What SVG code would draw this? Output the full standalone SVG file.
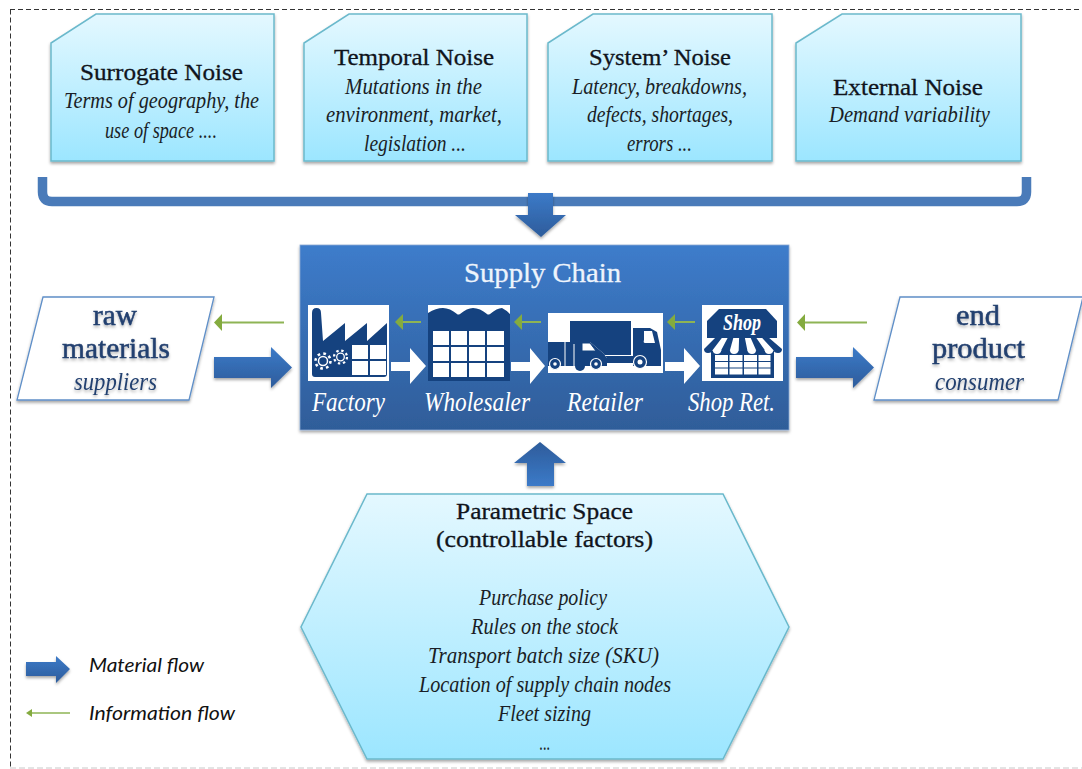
<svg xmlns="http://www.w3.org/2000/svg" width="1082" height="769" viewBox="0 0 1082 769">
<style>
text{font-family:"Liberation Serif","DejaVu Serif",serif;text-anchor:middle}
.h{font-size:23px;fill:#10141c;stroke:#10141c;stroke-width:.3px}
.i{font-size:23px;font-style:italic;fill:#1a1e26}
.w{fill:#fff;font-style:italic;font-size:27px}
.t{fill:#eef4fc;font-size:27px}
.p{font-size:29px;fill:#23406f;stroke:#23406f;stroke-width:.5px;filter:url(#ts)}
.q{font-size:25px;font-style:italic;fill:#23406f;filter:url(#ts)}
.l{font-family:Lato,"Liberation Sans",sans-serif;font-style:italic;font-size:20px;fill:#111;text-anchor:start}
.note{fill:url(#aqua);stroke:#6bb9cc;stroke-width:1.5;filter:url(#sh)}
.para{fill:#fff;stroke:#5f8fc8;stroke-width:1.3;filter:url(#sh)}
.blue{fill:url(#bh);filter:url(#sh)}
.wa{fill:#fff}
.ga{stroke:#8eb455;stroke-width:2;fill:none}
.gh{fill:#84ab3f}
.d{fill:#15427f}
.wb{fill:#fff}
</style>
<defs>
<linearGradient id="aqua" x1="0" y1="0" x2="0" y2="1"><stop offset="0" stop-color="#e4f8ff"/><stop offset="1" stop-color="#9ce6ff"/></linearGradient>
<linearGradient id="chain" x1="0" y1="0" x2="0" y2="1"><stop offset="0" stop-color="#3d7ccb"/><stop offset="1" stop-color="#2f5d99"/></linearGradient>
<linearGradient id="bh" x1="0" y1="0" x2="0" y2="1"><stop offset="0" stop-color="#3c7ac8"/><stop offset="1" stop-color="#2d5c9b"/></linearGradient>
<linearGradient id="bu" x1="0" y1="1" x2="0" y2="0"><stop offset="0" stop-color="#3c7ac8"/><stop offset="1" stop-color="#2d5c9b"/></linearGradient>
<filter id="sh" x="-10%" y="-10%" width="120%" height="125%"><feDropShadow dx="0" dy="2" stdDeviation="1.600" flood-color="#000" flood-opacity=".35"/></filter>
<filter id="ts" x="-10%" y="-20%" width="120%" height="150%"><feDropShadow dx="0" dy="2" stdDeviation="1.500" flood-color="#000" flood-opacity=".3"/></filter>
</defs>
<rect width="1082" height="769" fill="#fff"/>
<g id="frame" fill="none">
<path d="M10 9.500H1082M10.500 9.500V768" stroke="#333" stroke-width="1" stroke-dasharray="5 3"/>
<path d="M10 768H1082" stroke="#c8c8c8" stroke-width="1" stroke-dasharray="6 3"/>
</g>

<g id="supply-chain">
<rect x="300" y="245" width="489" height="185" fill="url(#chain)" stroke="#8aa9d2" stroke-width=".8" filter="url(#sh)"/>
<text class="t" x="542.500" y="282" textLength="157" lengthAdjust="spacingAndGlyphs" stroke="#eef4fc" stroke-width=".3">Supply Chain</text>
</g>

<g id="connectors">
<path d="M42.500 177V192Q42.500 201.500 52 201.500H1017Q1026.500 201.500 1026.500 192V177" fill="none" stroke="#4a7bb9" stroke-width="9.500"/>
<path class="blue" d="M528 193H553V215H566L541 237 515 215H528Z"/>
<path class="blue" d="M214 357H271V347L292 367.500 271 388V378H214Z"/>
<path class="blue" d="M796 357H853V347L874 367.500 853 388V378H796Z"/>
<path d="M527 486V463H514L540 442 566 463H554V486Z" fill="url(#bu)" filter="url(#sh)"/>
<path class="wa" d="M391 362H410V348L426 366 410 384V371H391Z"/>
<path class="wa" d="M511 362H530V348L545 366 530 384V371H511Z"/>
<path class="wa" d="M665 362H684V348L700 366 684 384V371H665Z"/>
<path class="ga" d="M403 322H421M522 322H541M675 322H695M222 322.500H284M805 322.500H867"/>
<path class="gh" d="M395 322 403 314V330Z"/>
<path class="gh" d="M514 322 522 314V330Z"/>
<path class="gh" d="M667 322 675 314V330Z"/>
<path class="gh" d="M214 322.500 222 314V331Z"/>
<path class="gh" d="M797 322.500 805 314V331Z"/>
</g>

<g id="surrogate-noise">
<path class="note" d="M96 14H274V161H51V43Z"/>
<text class="h" x="161.500" y="80" textLength="163" lengthAdjust="spacingAndGlyphs">Surrogate Noise</text>
<text class="i" x="161.500" y="108" textLength="195" lengthAdjust="spacingAndGlyphs">Terms of geography, the</text>
<text class="i" x="161" y="138" textLength="112" lengthAdjust="spacingAndGlyphs">use of space ....</text>
</g>
<g id="temporal-noise">
<path class="note" d="M349 14H527V161H304V43Z"/>
<text class="h" x="414" y="65" textLength="160" lengthAdjust="spacingAndGlyphs">Temporal Noise</text>
<text class="i" x="413.500" y="94" textLength="137" lengthAdjust="spacingAndGlyphs">Mutations in the</text>
<text class="i" x="414" y="122" textLength="176" lengthAdjust="spacingAndGlyphs">environment, market,</text>
<text class="i" x="415" y="151" textLength="102" lengthAdjust="spacingAndGlyphs">legislation ...</text>
</g>
<g id="system-noise">
<path class="note" d="M593 14H772V161H548V43Z"/>
<text class="h" x="660" y="65" textLength="142" lengthAdjust="spacingAndGlyphs">System’ Noise</text>
<text class="i" x="659.500" y="94" textLength="175" lengthAdjust="spacingAndGlyphs">Latency, breakdowns,</text>
<text class="i" x="660" y="122" textLength="146" lengthAdjust="spacingAndGlyphs">defects, shortages,</text>
<text class="i" x="659.500" y="151" textLength="65" lengthAdjust="spacingAndGlyphs">errors ...</text>
</g>
<g id="external-noise">
<path class="note" d="M842 14H1021V161H796V43Z"/>
<text class="h" x="908" y="95" textLength="150" lengthAdjust="spacingAndGlyphs">External Noise</text>
<text class="i" x="909.500" y="122" textLength="161" lengthAdjust="spacingAndGlyphs">Demand variability</text>
</g>

<g id="raw-materials">
<path class="para" d="M43 297H214L189 400H17Z"/>
<text class="p" x="115" y="325" textLength="44" lengthAdjust="spacingAndGlyphs">raw</text>
<text class="p" x="116" y="358" textLength="108" lengthAdjust="spacingAndGlyphs">materials</text>
<text class="q" x="115.500" y="390" textLength="83" lengthAdjust="spacingAndGlyphs">suppliers</text>
</g>
<g id="end-product">
<path class="para" d="M900 297H1083L1058 400H874Z"/>
<text class="p" x="978" y="325" textLength="44" lengthAdjust="spacingAndGlyphs">end</text>
<text class="p" x="978.500" y="358" textLength="93" lengthAdjust="spacingAndGlyphs">product</text>
<text class="q" x="979.500" y="390" textLength="89" lengthAdjust="spacingAndGlyphs">consumer</text>
</g>

<g id="factory">
<rect class="wb" x="308" y="305" width="81" height="76"/>
<path class="d" d="M312 313Q312 308 316.500 308Q321 308 321 313L323 341 345 323V341L367 323V341L387 323V374Q387 377 384 377H315Q312 377 312 374Z"/>
<g class="wb"><rect x="352" y="345" width="16" height="14"/><rect x="370" y="345" width="16" height="14"/><rect x="352" y="361" width="16" height="14"/><rect x="370" y="361" width="16" height="14"/></g>
<g fill="none" stroke="#fff">
<circle cx="323" cy="361" r="4.500" stroke-width="1.500"/><circle cx="323" cy="361" r="7.500" stroke-width="2.500" stroke-dasharray="2.700 3.200"/>
<circle cx="340.500" cy="357" r="3.800" stroke-width="1.300"/><circle cx="340.500" cy="357" r="6.500" stroke-width="2.200" stroke-dasharray="2.400 2.700"/>
</g>
<text class="w" x="348.500" y="411" textLength="73" lengthAdjust="spacingAndGlyphs">Factory</text>
</g>

<g id="wholesaler">
<rect class="wb" x="428" y="305" width="82" height="76"/>
<path class="d" d="M428 313Q436 308 443 308Q450 308 457 314Q458 315 460 314Q467 308 473 308Q480 308 487 314Q488 315 490 314Q497 308 502 308Q506 310 510 314V381H428Z"/>
<g class="wb">
<rect x="433" y="331" width="16" height="14"/><rect x="451" y="331" width="16" height="14"/><rect x="469" y="331" width="16" height="14"/><rect x="487" y="331" width="17" height="14"/>
<rect x="433" y="347" width="16" height="14"/><rect x="451" y="347" width="16" height="14"/><rect x="469" y="347" width="16" height="14"/><rect x="487" y="347" width="17" height="14"/>
<rect x="433" y="363" width="16" height="14"/><rect x="451" y="363" width="16" height="14"/><rect x="469" y="363" width="16" height="14"/><rect x="487" y="363" width="17" height="14"/>
</g>
<text class="w" x="477" y="411" textLength="106" lengthAdjust="spacingAndGlyphs">Wholesaler</text>
</g>

<g id="retailer">
<rect class="wb" x="548" y="313" width="115" height="60"/>
<rect class="d" x="570" y="321" width="61" height="34"/>
<path class="d" d="M633 328H650L657 332 661 350V366H633Z"/>
<rect class="d" x="605" y="356" width="30" height="7"/>
<path class="wb" d="M644 331H652L655 343H645Q643 343 644 340Z"/>
<path d="M570 342H590L603 353 607 358V366H570Z" fill="#fff"/>
<path class="d" d="M548 342H590L603 353 607 358V366H548Z"/>
<path d="M565 342V366M574 344V366" stroke="#fff" stroke-width="1" fill="none"/>
<path d="M582 343H590L596 351H582Z" fill="#fff" stroke="#15427f" stroke-width="1"/>
<circle class="d" cx="580" cy="366" r="5"/>
<g fill="#15427f" stroke="#fff" stroke-width="1.200"><circle cx="555" cy="364" r="5.500"/><circle cx="596" cy="364" r="5.500"/><circle cx="640" cy="362" r="6.500"/></g>
<g fill="#fff"><circle cx="555" cy="364" r="1.800"/><circle cx="596" cy="364" r="1.800"/><circle cx="640" cy="362" r="2.500"/></g>
<text class="w" x="605" y="411" textLength="76" lengthAdjust="spacingAndGlyphs">Retailer</text>
</g>

<g id="shop-ret">
<rect class="wb" x="702" y="305" width="81" height="76"/>
<path class="d" d="M719 309H766L777 321V338H707V321Z"/>
<text x="742" y="330" textLength="38" lengthAdjust="spacingAndGlyphs" style="font-size:23px;font-weight:bold;font-style:italic;fill:#fff">Shop</text>
<path class="d" d="M711 351H774V378H711Z"/>
<g class="wb">
<rect x="715" y="355" width="13" height="6"/><rect x="729.500" y="355" width="13" height="6"/><rect x="744" y="355" width="13" height="6"/><rect x="758.500" y="355" width="12" height="6"/>
<rect x="715" y="362" width="13" height="5.500"/><rect x="729.500" y="362" width="13" height="5.500"/><rect x="744" y="362" width="13" height="5.500"/><rect x="758.500" y="362" width="12" height="5.500"/>
<rect x="715" y="368.500" width="13" height="6"/><rect x="729.500" y="368.500" width="13" height="6"/><rect x="744" y="368.500" width="13" height="6"/><rect x="758.500" y="368.500" width="12" height="6"/>
</g>
<path class="d" d="M716 337H768L782 349Q782 353 778 353Q774 353 773.300 350Q773 354 769 354Q765 354 764.700 350Q764 354 760 354Q756 354 756 350Q756 354 752 354Q748 354 747.300 350Q747 354 743 354Q739 354 738.700 350Q738 354 734 354Q730 354 730 350Q730 354 726 354Q722 354 721.300 350Q721 354 717 354Q713 354 712.700 350Q712 353 708 353Q704 353 704 349Z"/>
<g class="wb">
<path d="M721.800 338H727.600L721.300 350Q721 354 717 354Q713 354 712.700 350Z"/>
<path d="M733.300 338H739.100L738.700 350Q738 354 734 354Q730 354 730 350Z"/>
<path d="M744.900 338H750.700L756 350Q756 354 752 354Q748 354 747.300 350Z"/>
<path d="M756.400 338H762.200L773.300 350Q773 354 769 354Q765 354 764.700 350Z"/>
</g>
<text class="w" x="731.500" y="411" textLength="87" lengthAdjust="spacingAndGlyphs">Shop Ret.</text>
</g>

<g id="parametric-space">
<path class="note" d="M367 494H723L789 627 723 759H367L301 627Z"/>
<text class="h" x="544.500" y="519" textLength="177" lengthAdjust="spacingAndGlyphs">Parametric Space</text>
<text class="h" x="544.500" y="547" textLength="217" lengthAdjust="spacingAndGlyphs">(controllable factors)</text>
<text class="i" x="543" y="605" textLength="128" lengthAdjust="spacingAndGlyphs">Purchase policy</text>
<text class="i" x="544.500" y="634" textLength="147" lengthAdjust="spacingAndGlyphs">Rules on the stock</text>
<text class="i" x="543.500" y="663" textLength="231" lengthAdjust="spacingAndGlyphs">Transport batch size (SKU)</text>
<text class="i" x="545" y="692" textLength="252" lengthAdjust="spacingAndGlyphs">Location of supply chain nodes</text>
<text class="i" x="544.500" y="721" textLength="93" lengthAdjust="spacingAndGlyphs">Fleet sizing</text>
<text class="i" x="545" y="750" textLength="11" lengthAdjust="spacingAndGlyphs">...</text>
</g>

<g id="legend">
<path class="blue" d="M26 662H56V656L70 669 56 683V676H26Z"/>
<path d="M32 713H70" stroke="#8eb455" stroke-width="1.500"/>
<path class="gh" d="M26 713 32 709V717Z"/>
<text class="l" x="89" y="672" textLength="115" lengthAdjust="spacingAndGlyphs">Material flow</text>
<text class="l" x="89" y="720" textLength="146" lengthAdjust="spacingAndGlyphs">Information flow</text>
</g>
</svg>
